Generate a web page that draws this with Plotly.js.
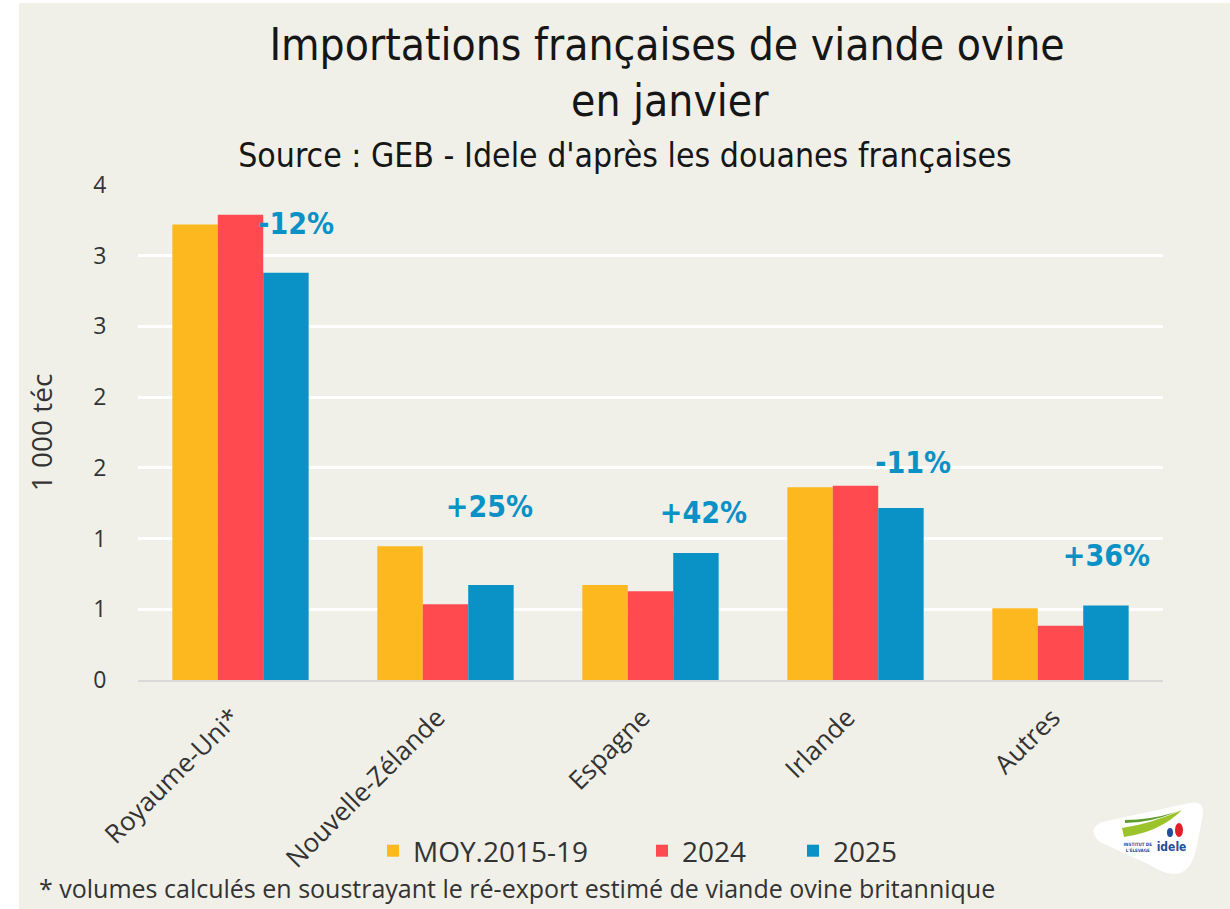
<!DOCTYPE html>
<html>
<head>
<meta charset="utf-8">
<script src="https://cdn.plot.ly/plotly-3.0.1.min.js"></script>
<style>
  html, body { margin: 0; padding: 0; background: #ffffff; }
  #chart { position: absolute; left: 0; top: 0; width: 1230px; height: 909px; }
  #chart g.annotation[data-index="0"] text,
  #chart g.annotation[data-index="1"] text,
  #chart g.annotation[data-index="2"] text,
  #chart g.annotation[data-index="3"] text,
  #chart g.annotation[data-index="4"] text,
  #chart g.annotation[data-index="5"] text,
  #chart g.annotation[data-index="6"] text,
  #chart g.annotation[data-index="7"] text,
  #chart g.annotation[data-index="9"] text,
  #chart g.annotation[data-index="10"] text { font-stretch: condensed !important; }
</style>
</head>
<body>
<div id="chart"></div>
<script>
// Categories and series (1 000 téc)
const categories = ["Royaume-Uni*", "Nouvelle-Zélande", "Espagne", "Irlande", "Autres"];
const seriesNames = ["MOY.2015-19", "2024", "2025"];
const moy2015_19 = [3.22, 0.945, 0.671, 1.363, 0.508];
const y2024 = [3.29, 0.536, 0.628, 1.373, 0.383];
const y2025 = [2.88, 0.671, 0.898, 1.217, 0.527];
const changeLabels = ["-12%", "+25%", "+42%", "-11%", "+36%"];
const yTickVals = [0, 0.5, 1, 1.5, 2, 2.5, 3, 3.5];
const yTickText = ["0", "1", "1", "2", "2", "3", "3", "4"];

const colors = ["#FDB71F", "#FF4B4F", "#0A91C6"];
const condensed = "'DejaVu Sans', sans-serif";
const body = "'Open Sans', 'Noto Sans', sans-serif";

// plot area in pixels: x 138..1163, y 185..680
const X = px => (px - 138) / 1025;
const Y = py => (680 - py) / 495;

const allSeries = [moy2015_19, y2024, y2025];
const legendIds = ["legend", "legend2", "legend3"];
const traces = allSeries.map((vals, i) => ({
  type: "bar",
  name: seriesNames[i],
  x: categories,
  y: vals,
  legend: legendIds[i],
  marker: { color: colors[i], line: { width: 0 } }
}));

// label placement (category index offset, y in data units)
const labelPos = [
  { dx: 0.27, y: 3.23 },
  { dx: 0.215, y: 1.226 },
  { dx: 0.26, y: 1.183 },
  { dx: 0.28, y: 1.538 },
  { dx: 0.225, y: 0.879 }
];

const annotations = changeLabels.map((t, i) => ({
  x: i + labelPos[i].dx, y: labelPos[i].y, xref: "x", yref: "y",
  text: "<b>" + t + "</b>", showarrow: false,
  font: { family: condensed, size: 30, color: "#0A91C6" },
  xanchor: "center", yanchor: "middle"
})).concat([
  { xref: "paper", yref: "paper", x: X(667), y: Y(45), xanchor: "center", yanchor: "middle",
    text: "Importations françaises de viande ovine", showarrow: false,
    font: { family: condensed, size: 44, color: "#161616" } },
  { xref: "paper", yref: "paper", x: X(670), y: Y(100), xanchor: "center", yanchor: "middle",
    text: "en janvier", showarrow: false,
    font: { family: condensed, size: 44, color: "#161616" } },
  { xref: "paper", yref: "paper", x: X(625), y: Y(155), xanchor: "center", yanchor: "middle",
    text: "Source : GEB - Idele d'après les douanes françaises", showarrow: false,
    font: { family: condensed, size: 33.5, color: "#161616" } },
  { xref: "paper", yref: "paper", x: X(37), y: Y(888), xanchor: "left", yanchor: "middle",
    text: "* volumes calculés en soustrayant le ré-export estimé de viande ovine britannique", showarrow: false,
    font: { family: body, size: 25, color: "#333333" } },
  { xref: "paper", yref: "paper", x: X(1171), y: Y(847), xanchor: "center", yanchor: "middle",
    text: "<b>idele</b>", showarrow: false,
    font: { family: condensed, size: 12, color: "#1F4E9C" } },
  { xref: "paper", yref: "paper", x: X(1138), y: Y(847), xanchor: "center", yanchor: "middle",
    text: "<b>INSTITUT DE<br>L'ÉLEVAGE</b>", showarrow: false,
    font: { family: condensed, size: 4.5, color: "#1F4E9C" } }
]);

function legendAt(pxLeft) {
  return {
    orientation: "h", xref: "container", yref: "container",
    x: pxLeft / 1230, y: 1 - 851 / 909, xanchor: "left", yanchor: "middle",
    font: { family: body, size: 28, color: "#333333" },
    bgcolor: "rgba(0,0,0,0)", borderwidth: 0
  };
}

function pathFrom(pts) {
  return pts.map(s => s.replace(/(-?\d+(?:\.\d+)?),(-?\d+(?:\.\d+)?)/g,
    (m, a, b) => X(+a) + "," + Y(+b))).join(" ");
}
const logoPath = pathFrom(["M 1096,838", "Q 1089,828 1102,822", "L 1190,803",
  "Q 1204,800 1203,814", "L 1196,850", "Q 1190,875 1172,874", "Q 1160,872 1150,865", "L 1100,842 Z"]);
const swoosh1 = pathFrom(["M 1122,828", "Q 1150,824 1182,810", "Q 1160,832 1124,837 Z"]);
const swoosh2 = pathFrom(["M 1125,820", "Q 1150,820 1176,812", "Q 1150,823 1125,823 Z"]);

const layout = {
  width: 1230, height: 909,
  paper_bgcolor: "#F0F0E8",
  plot_bgcolor: "#F0F0E8",
  margin: { l: 138, r: 67, t: 185, b: 229, pad: 0 },
  barmode: "group",
  bargap: 0.335,
  bargroupgap: 0,
  showlegend: true,
  legend: legendAt(373),
  legend2: legendAt(642),
  legend3: legendAt(793),
  xaxis: {
    type: "category",
    tickangle: -45,
    tickfont: { family: body, size: 26, color: "#333333" },
    ticklabelstandoff: 10,
    ticklabelshift: -8,
    showline: true, linecolor: "#D9D9D9", linewidth: 2,
    ticks: "", showgrid: false, zeroline: false,
    fixedrange: true
  },
  yaxis: {
    range: [0, 3.5],
    tickvals: yTickVals, ticktext: yTickText,
    tickfont: { family: body, size: 23, color: "#333333" },
    ticks: "outside", ticklen: 26, tickcolor: "rgba(0,0,0,0)",
    showgrid: true, gridcolor: "#FFFFFF", gridwidth: 3,
    zeroline: false, showline: false,
    title: { text: "1 000 téc", font: { family: body, size: 28, color: "#333333" }, standoff: 32 },
    fixedrange: true
  },
  annotations: annotations,
  shapes: [
    // white strips at left and top of picture
    { type: "rect", xref: "paper", yref: "paper", x0: X(-5), x1: X(19), y0: Y(920), y1: Y(-5),
      fillcolor: "#FFFFFF", line: { width: 0 } },
    { type: "rect", xref: "paper", yref: "paper", x0: X(-5), x1: X(1235), y0: Y(3), y1: Y(-5),
      fillcolor: "#FFFFFF", line: { width: 0 } },
    // logo
    { type: "path", xref: "paper", yref: "paper", path: logoPath,
      fillcolor: "#FFFFFF", line: { width: 0 } },
    { type: "path", xref: "paper", yref: "paper", path: swoosh1,
      fillcolor: "#9CC42A", line: { width: 0 } },
    { type: "path", xref: "paper", yref: "paper", path: swoosh2,
      fillcolor: "#5E9E2C", line: { width: 0 } },
    { type: "circle", xref: "paper", yref: "paper", x0: X(1175), x1: X(1183), y0: Y(837), y1: Y(823),
      fillcolor: "#E2202A", line: { width: 0 } },
    { type: "circle", xref: "paper", yref: "paper", x0: X(1167), x1: X(1173), y0: Y(837), y1: Y(828),
      fillcolor: "#1F4E9C", line: { width: 0 } }
  ]
};

Plotly.newPlot("chart", traces, layout, { displayModeBar: false, staticPlot: true });
</script>
</body>
</html>
